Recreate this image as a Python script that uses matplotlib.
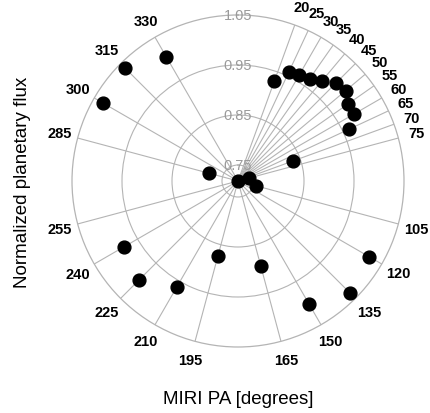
import numpy as np
import matplotlib
matplotlib.use("Agg")
import matplotlib.pyplot as plt

plt.rcParams['font.family'] = ['Liberation Sans', 'DejaVu Sans']

# MIRI position angles (degrees) and normalized planetary flux
pa = [20, 25, 30, 35, 40, 45, 50, 55, 60, 65, 70, 75,
      105, 120, 135, 150, 165, 195, 210, 225, 240, 255,
      285, 300, 315, 330]
flux = [0.930, 0.958, 0.962, 0.968, 0.978, 0.996, 0.999, 0.986, 0.987, 0.962, 0.836, 0.740,
        0.755, 1.020, 1.036, 1.003, 0.895, 0.873, 0.962, 0.999, 0.981, 0.718,
        0.778, 1.030, 1.038, 1.004]
rings = [0.75, 0.85, 0.95, 1.05]
r_min = 0.718

grid_col = "#b4b4b4"

fig = plt.figure(figsize=(4.3, 4.14), dpi=100)
ax = fig.add_axes([72 / 430, 66 / 414, 332 / 430, 332 / 414], projection="polar")
ax.set_theta_zero_location("N")
ax.set_theta_direction(-1)
ax.set_rlim(r_min, rings[-1])

ax.set_xticks(np.deg2rad(pa))
ax.set_xticklabels([])
ax.set_yticks(rings[:-1])
ax.set_yticklabels([])
ax.grid(True, color=grid_col, linewidth=0.8)
ax.spines["polar"].set_color(grid_col)
ax.spines["polar"].set_linewidth(0.9)
ax.tick_params(length=0)

ax.scatter(np.deg2rad(pa), flux, s=85, color="black", zorder=5, clip_on=False)

# angle labels outside the rim
for a in pa:
    ax.text(np.deg2rad(a), 1.088, str(a), ha="center", va="center",
            fontsize=10.5, fontweight="bold", clip_on=False)

# ring labels along the top
for r in rings:
    ax.text(0, r, f"{r:.2f}", ha="center", va="center", fontsize=10.5,
            color="#9a9a9a", zorder=3, clip_on=False)

fig.text(23 / 430, 1 - 182 / 414, "Normalized planetary flux", rotation=90,
         ha="center", va="center", fontsize=13.5)
fig.text(238 / 430, 1 - 400 / 414, "MIRI PA [degrees]", ha="center", va="center",
         fontsize=13.5)

fig.savefig("out.png", dpi=100)
